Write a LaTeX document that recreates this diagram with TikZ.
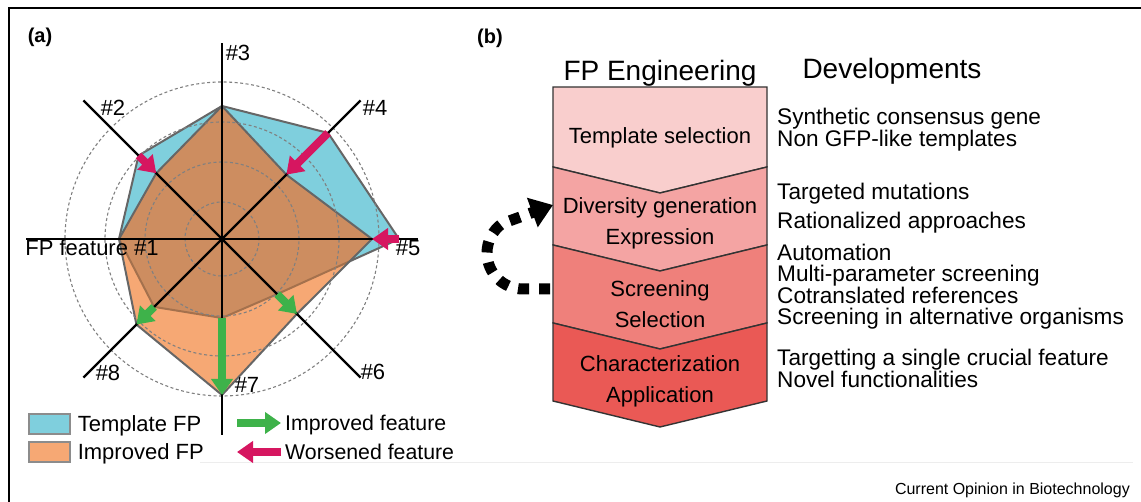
\documentclass[tikz,border=0pt]{standalone}
\usepackage{fontspec}
\setmainfont{Liberation Sans}
\usepackage{tikz}
\usetikzlibrary{arrows,arrows.meta,positioning}

\definecolor{tmplblue}{RGB}{127,207,221}
\definecolor{imporange}{RGB}{246,168,116}
\definecolor{overlap}{RGB}{205,141,96}
\definecolor{worse}{RGB}{214,22,96}
\definecolor{better}{RGB}{62,178,74}
\definecolor{segA}{RGB}{249,206,205}
\definecolor{segB}{RGB}{244,164,163}
\definecolor{segC}{RGB}{239,128,123}
\definecolor{segD}{RGB}{234,89,85}

\tikzset{
  txt/.style={font=\fontsize{22}{21}\selectfont, inner sep=0pt},
  lab/.style={txt, text depth=0pt},
  hdr/.style={font=\fontsize{28}{30}\selectfont, inner sep=0pt, text depth=0pt},
  panel/.style={font=\fontsize{20}{22}\selectfont\bfseries, inner sep=0pt},
  steptxt/.style={txt, align=center, font=\fontsize{22}{31}\selectfont},
  devtxt/.style={txt, align=left, anchor=west, font=\fontsize{22.6}{21}\selectfont},
  spoke/.style={line width=2.2pt, black},
  ring/.style={black!50, line width=1.1pt, dash pattern=on 3pt off 2.5pt},
  polyedge/.style={draw=black!60, line width=2pt, line join=round},
  fat/.style={line width=8pt, -{Triangle[width=21pt,length=16pt]}},
  keybox/.style={draw=black!45, line width=1.2pt, minimum width=41pt, minimum height=20pt, inner sep=0pt},
  seg/.style={draw=black!80, line width=1.4pt},
  cyclearrow/.style={line width=11pt, dash pattern=on 11pt off 10pt, -{Triangle[width=30pt,length=22pt]}},
}

\begin{document}
\begin{tikzpicture}[x=1pt,y=1pt]
\useasboundingbox (0,0) rectangle (1141,502);
% frame
\draw[line width=2pt] (9,0) -- (9,494) -- (1141,494);
\draw[black!7, line width=1pt] (200,39) -- (1133,39);

% (a) radar chart
\node[panel] (pa) at (40,465) {(a)};
\begin{scope}[shift={(222,263)}]
  \foreach \r [count=\i] in {103,118,133,150,177,78,79,96}
    \coordinate (t\i) at ({225-45*\i}:\r);
  \foreach \r [count=\i] in {103,93,133,91,150,106,156,121}
    \coordinate (m\i) at ({225-45*\i}:\r);
  % template FP, improved FP and their overlap
  \filldraw[fill=tmplblue, polyedge] (t1) -- (t2) -- (t3) -- (t4) -- (t5) -- (t6) -- (t7) -- (t8) -- cycle;
  \fill[imporange] (m1) -- (m2) -- (m3) -- (m4) -- (m5) -- (m6) -- (m7) -- (m8) -- cycle;
  \begin{scope}
    \clip (t1) -- (t2) -- (t3) -- (t4) -- (t5) -- (t6) -- (t7) -- (t8) -- cycle;
    \fill[overlap] (m1) -- (m2) -- (m3) -- (m4) -- (m5) -- (m6) -- (m7) -- (m8) -- cycle;
  \end{scope}
  \begin{scope}
    \clip (m1) -- (m2) -- (m3) -- (m4) -- (m5) -- (m6) -- (m7) -- (m8) -- cycle;
    \draw[polyedge, draw=overlap!80!black] (t1) -- (t2) -- (t3) -- (t4) -- (t5) -- (t6) -- (t7) -- (t8) -- cycle;
  \end{scope}
  \draw[polyedge] (m1) -- (m2) -- (m3) -- (m4) -- (m5) -- (m6) -- (m7) -- (m8) -- cycle;
  % rings and spokes
  \foreach \r in {37,77,117,157}
    \draw[ring] (0,0) circle[radius=\r];
  \foreach \a in {0,45,...,315}
    \draw[spoke] (0,0) -- (\a:196);
  % changes
  \foreach \i in {2,4,5}
    \draw[fat, worse] (t\i) -- (m\i);
  \foreach \i in {6,7,8}
    \draw[fat, better] (t\i) -- (m\i);
  % feature labels
  \node[lab] (l1) at (-130,-9) {FP feature \#1};
  \node[lab] (l2) at (-109,131) {\#2};
  \node[lab] (l3) at (16,186) {\#3};
  \node[lab] (l4) at (153,131) {\#4};
  \node[lab] (l5) at (186,-9) {\#5};
  \node[lab] (l6) at (151,-133) {\#6};
  \node[lab] (l7) at (25,-146) {\#7};
  \node[lab] (l8) at (-114,-134) {\#8};
\end{scope}

% legend
\node[keybox, fill=tmplblue] (kt) at (49.5,78) {};
\node[lab, right=7pt of kt] (lt) {Template FP};
\node[keybox, fill=imporange] (ki) at (49.5,50) {};
\node[lab, right=7pt of ki] (li) {Improved FP};
\node[lab, anchor=west, font=\fontsize{21.3}{21}\selectfont] (lb) at (285,79) {Improved feature};
\node[lab, anchor=west, font=\fontsize{21.3}{21}\selectfont] (lw) at (285,50) {Worsened feature};
\coordinate (gb) at (237,79);
\coordinate (gw) at (237,50);
\draw[fat, better] (gb) -- ([xshift=-4pt]lb.west);
\draw[fat, worse] ([xshift=-4pt]lw.west) -- (gw);

% (b) engineering funnel
\node[panel] (pb) at (490,464) {(b)};
\node[hdr] (eng) at (660,432) {FP Engineering};
\node[hdr] (dev) at (892,434) {Developments};
\filldraw[seg, fill=segA] (553,415) -- (767,415) -- (767,335) -- (660,309) -- (553,335) -- cycle;
\foreach \t/\c in {335/segB,257/segC,179/segD}
  \filldraw[seg, fill=\c] (553,\t) -- (660,\t-26) -- (767,\t) -- (767,\t-78) -- (660,\t-104) -- (553,\t-78) -- cycle;
\node[txt] (s1) at (660,364) {Template selection};
\node[steptxt] (s2) at (660,279) {Diversity generation\\Expression};
\node[steptxt] (s3) at (660,198) {Screening\\Selection};
\node[steptxt] (s4) at (660,121) {Characterization\\Application};

% developments
\node[devtxt] (d1) at (777,372) {Synthetic consensus gene\\Non GFP-like templates};
\node[devtxt, font=\fontsize{22.6}{29}\selectfont] (d2) at (777,294) {Targeted mutations\\Rationalized approaches};
\node[devtxt] (d3) at (777,215) {Automation\\Multi-parameter screening\\Cotranslated references\\Screening in alternative organisms};
\node[devtxt] (d4) at (777,134) {Targetting a single crucial feature\\Novel functionalities};

% iteration loop
\coordinate (ls) at (550,213);
\coordinate (le) at (553,297);
\draw[cyclearrow] (ls) -- (523,213) arc[start angle=-90, end angle=-235, radius=36] -- (le);

\node[font=\fontsize{16}{18}\selectfont, anchor=east, inner sep=0pt] (src) at (1130,12) {Current Opinion in Biotechnology};
\end{tikzpicture}
\end{document}
